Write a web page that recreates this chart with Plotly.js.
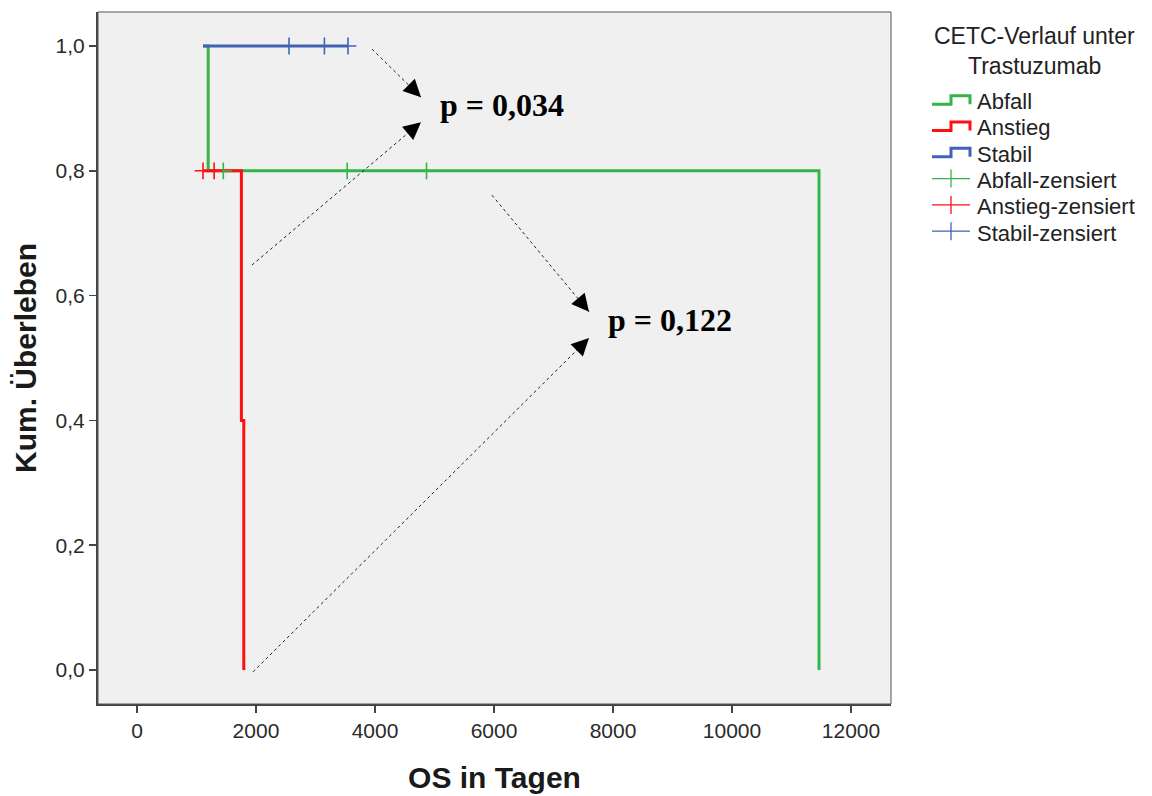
<!DOCTYPE html>
<html>
<head>
<meta charset="utf-8">
<script src="https://cdn.plot.ly/plotly-3.0.1.min.js"></script>
<style>html,body{margin:0;padding:0;background:#fff;}#chart{width:1152px;height:796px;}</style>
</head>
<body>
<div id="chart"></div>
<script>
// Kaplan-Meier step curves (time in days, cumulative survival)
const abfallTime = [1110, 1197, 11462];
const abfallSurv = [1.0, 0.8, 0.0];
const anstiegTime = [1110, 1755, 1795];
const anstiegSurv = [0.8, 0.4, 0.0];
const stabilTime = [1110, 3546];
const stabilSurv = [1.0, 1.0];

// censored observations
const abfallCensTime = [1451, 3533, 4866];
const abfallCensSurv = [0.8, 0.8, 0.8];
const anstiegCensTime = [1110, 1297];
const anstiegCensSurv = [0.8, 0.8];
const stabilCensTime = [2555, 3150, 3546];
const stabilCensSurv = [1.0, 1.0, 1.0];

const groupNames = ['Abfall', 'Anstieg', 'Stabil'];
const groupColors = ['#33b54a', '#ff1010', '#4262b5'];
const legendTitleLines = ['CETC-Verlauf unter', 'Trastuzumab'];

// p-value labels
const pLabels = ['p = 0,034', 'p = 0,122'];
const pLabelX = [6140, 8960];
const pLabelY = [0.905, 0.561];

// arrows: tail -> tip (data coords)
const arrowTailX = [3950, 1933, 5966, 1950];
const arrowTailY = [0.995, 0.649, 0.761, -0.003];
const arrowTipX = [4773, 4773, 7597, 7597];
const arrowTipY = [0.918, 0.878, 0.574, 0.532];

function withGaps(arr) {
  const out = [];
  arr.forEach((v, i) => { if (i > 0) out.push(null); out.push(v); });
  return out;
}

const curves = [
  [abfallTime, abfallSurv],
  [anstiegTime, anstiegSurv],
  [stabilTime, stabilSurv]
];
const cens = [
  [abfallCensTime, abfallCensSurv],
  [anstiegCensTime, anstiegCensSurv],
  [stabilCensTime, stabilCensSurv]
];

const traces = [];
curves.forEach((c, i) => {
  traces.push({
    x: c[0], y: c[1], type: 'scatter', mode: 'lines',
    line: {shape: 'hv', color: groupColors[i], width: 3},
    name: groupNames[i], hoverinfo: 'x+y'
  });
});
cens.forEach((c, i) => {
  traces.push({
    x: withGaps(c[0]), y: withGaps(c[1]), type: 'scatter', mode: 'markers',
    marker: {symbol: 'cross-thin', size: 12, line: {color: groupColors[i], width: 1.6}},
    name: groupNames[i] + '-zensiert'
  });
});

// ---- layout geometry (pixels), converted to paper coords ----
const W = 1152, H = 796;
const M = {l: 98, r: 261, t: 12, b: 92};
const PW = W - M.l - M.r, PH = H - M.t - M.b;
const px = v => (v - M.l) / PW;
const py = v => (H - M.b - v) / PH;

const shapes = [
  {type: 'rect', xref: 'paper', yref: 'paper', x0: 0, x1: 1, y0: 0, y1: 1,
   line: {color: '#555', width: 1}, fillcolor: 'rgba(0,0,0,0)', layer: 'above'}
];
const annotations = [];
arrowTailX.forEach((tx, i) => {
  shapes.push({type: 'line', xref: 'x', yref: 'y',
    x0: tx, y0: arrowTailY[i], x1: arrowTipX[i], y1: arrowTipY[i],
    line: {color: '#222', width: 1, dash: 'dot'}});
});
// short arrow heads along the direction of each dotted line (pixel offsets)
const headOffX = [-10, -10.7, -8.9, -9.9];
const headOffY = [-10, 9, -10.8, 9.9];
arrowTipX.forEach((x, i) => {
  annotations.push({x: x, y: arrowTipY[i], xref: 'x', yref: 'y', text: '',
    showarrow: true, arrowhead: 2, arrowsize: 2.9, arrowwidth: 1.2, arrowcolor: '#000',
    ax: headOffX[i], ay: headOffY[i], standoff: 0});
});
pLabels.forEach((t, i) => {
  annotations.push({x: pLabelX[i], y: pLabelY[i], xref: 'x', yref: 'y', text: '<b>' + t + '</b>',
    showarrow: false, font: {family: 'Liberation Serif, Times New Roman, serif', size: 32, color: '#000'}});
});

// ---- legend (SPSS style, step icons) ----
const legTitleY = [36, 66];
legendTitleLines.forEach((t, i) => {
  annotations.push({xref: 'paper', yref: 'paper', x: px(1034), y: py(legTitleY[i]),
    xanchor: 'center', yanchor: 'middle', text: t, showarrow: false,
    font: {size: 23, color: '#222'}});
});
const legRow0 = 101.7, legRowStep = 26.3;
const iconX0 = 932, iconXm = 951, iconX1 = 970, textX = 975;
const legendNames = groupNames.concat(groupNames.map(n => n + '-zensiert'));
legendNames.forEach((name, k) => {
  const cy = legRow0 + k * legRowStep;
  const col = groupColors[k % 3];
  if (k < 3) {
    shapes.push({type: 'path', xref: 'paper', yref: 'paper',
      path: `M ${px(iconX0)} ${py(cy + 2.5)} L ${px(iconXm)} ${py(cy + 2.5)} L ${px(iconXm)} ${py(cy - 6)} L ${px(iconX1)} ${py(cy - 6)} L ${px(iconX1)} ${py(cy + 2.5)}`,
      line: {color: col, width: 3}});
  } else {
    shapes.push({type: 'line', xref: 'paper', yref: 'paper',
      x0: px(iconX0), x1: px(iconX1), y0: py(cy - 2), y1: py(cy - 2),
      line: {color: col, width: 1.3}});
    shapes.push({type: 'line', xref: 'paper', yref: 'paper',
      x0: px(iconXm), x1: px(iconXm), y0: py(cy - 11), y1: py(cy + 7),
      line: {color: col, width: 1.3}});
  }
  annotations.push({xref: 'paper', yref: 'paper', x: px(textX), y: py(cy),
    xanchor: 'left', yanchor: 'middle', text: name, showarrow: false,
    font: {size: 22, color: '#222'}});
});

const layout = {
  width: W, height: H,
  margin: M,
  paper_bgcolor: '#ffffff',
  plot_bgcolor: '#f0f0f0',
  separators: ',.',
  font: {family: 'Liberation Sans, Arial, sans-serif', color: '#222'},
  xaxis: {
    range: [-655, 12672], tickvals: [0, 2000, 4000, 6000, 8000, 10000, 12000],
    tickformat: 'd', showgrid: false, zeroline: false,
    showline: true, linecolor: '#444', linewidth: 2,
    ticks: 'outside', ticklen: 7, tickwidth: 1.5, tickcolor: '#444',
    tickfont: {size: 21, color: '#2a2a2a'},
    title: {text: '<b>OS in Tagen</b>', font: {size: 30, color: '#1a1a1a'}, standoff: 26}
  },
  yaxis: {
    range: [-0.0545, 1.0545], tickvals: [0, 0.2, 0.4, 0.6, 0.8, 1.0],
    tickformat: '.1f', showgrid: false, zeroline: false,
    showline: true, linecolor: '#444', linewidth: 2,
    ticks: 'outside', ticklen: 7, tickwidth: 1.5, tickcolor: '#444',
    tickfont: {size: 21, color: '#2a2a2a'},
    title: {text: '<b>Kum. Überleben</b>', font: {size: 30, color: '#1a1a1a'}, standoff: 10}
  },
  showlegend: false,
  shapes: shapes,
  annotations: annotations
};

Plotly.newPlot('chart', traces, layout, {displayModeBar: false, staticPlot: true});
</script>
</body>
</html>
